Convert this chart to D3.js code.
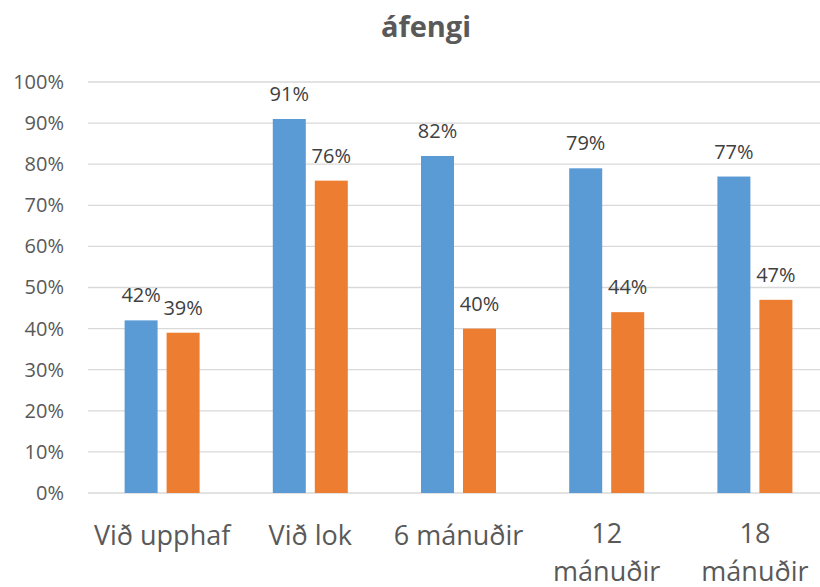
<!DOCTYPE html>
<meta charset="utf-8">
<style>
body { margin: 0; background: #fff; }
text { font-family: "Open Sans", "Noto Sans", sans-serif; }
</style>
<body>
<script src="https://d3js.org/d3.v7.min.js"></script>
<script>

// chart data
var categories = ["Við upphaf", "Við lok", "6 mánuðir", "12 mánuðir", "18 mánuðir"];
var series1 = [42, 91, 82, 79, 77];
var series2 = [39, 76, 40, 44, 47];
var yTicks = [0, 10, 20, 30, 40, 50, 60, 70, 80, 90, 100];
var title = "áfengi";

var W = 820, H = 587;
var margin = {top: 82, right: -9, bottom: 94, left: 88},
    width = W - margin.left - margin.right,
    height = H - margin.top - margin.bottom;

var svg = d3.select("body").append("svg")
    .attr("width", W)
    .attr("height", H);

var g = svg.append("g")
    .attr("transform", "translate(" + margin.left + "," + margin.top + ")");

var x = d3.scaleBand().domain(categories).range([0, width]);
var y = d3.scaleLinear().domain([0, 100]).range([height, 0]);

// gridlines
g.selectAll(".grid")
    .data(yTicks)
  .enter().append("line")
    .attr("x1", 0)
    .attr("x2", W - margin.left)
    .attr("y1", function(d) { return y(d); })
    .attr("y2", function(d) { return y(d); })
    .attr("stroke", "#d9d9d9")
    .attr("stroke-width", 1.3);

// y axis labels
var yAxis = g.append("g")
    .call(d3.axisLeft(y).tickValues(yTicks).tickSize(0).tickPadding(24)
      .tickFormat(function(d) { return d + "%"; }));
yAxis.select(".domain").remove();
yAxis.selectAll("text")
    .attr("fill", "#595959")
    .style("font-size", "20px");

var barW = 33, off = 21;
var cols = ["#5b9bd5", "#ed7d31"];
var all = [series1, series2];

all.forEach(function(s, i) {
  var sign = i === 0 ? -1 : 1;
  g.selectAll(".bar" + i)
      .data(s)
    .enter().append("rect")
      .attr("x", function(d, j) { return x(categories[j]) + x.bandwidth() / 2 + sign * off - barW / 2; })
      .attr("y", function(d) { return y(d); })
      .attr("width", barW)
      .attr("height", function(d) { return height - y(d); })
      .attr("fill", cols[i]);

  g.selectAll(".lab" + i)
      .data(s)
    .enter().append("text")
      .attr("x", function(d, j) { return x(categories[j]) + x.bandwidth() / 2 + sign * off; })
      .attr("y", function(d) { return y(d) - 18; })
      .attr("text-anchor", "middle")
      .attr("fill", "#404040")
      .style("font-size", "20px")
      .text(function(d) { return d + "%"; });
});

// x labels, wrapped when wider than the band
var xl = g.selectAll(".xl")
    .data(categories)
  .enter().append("text")
    .attr("text-anchor", "middle")
    .attr("fill", "#595959")
    .style("font-size", "27px")
    .attr("transform", function(d) { return "translate(" + (x(d) + x.bandwidth() / 2) + "," + (height + 52) + ")"; })
    .text(function(d) { return d; });

xl.each(function(d) {
  var t = d3.select(this);
  if (this.getComputedTextLength() > x.bandwidth() - 6) {
    var i = d.indexOf(" ");
    t.text(null);
    t.append("tspan").attr("x", 0).attr("dy", -2).text(d.slice(0, i));
    t.append("tspan").attr("x", 0).attr("dy", 38).text(d.slice(i + 1));
  }
});

// title
svg.append("text")
    .attr("x", 426)
    .attr("y", 37)
    .attr("text-anchor", "middle")
    .attr("fill", "#595959")
    .style("font-size", "29px")
    .style("font-weight", "bold")
    .text(title);

</script>
</body>
